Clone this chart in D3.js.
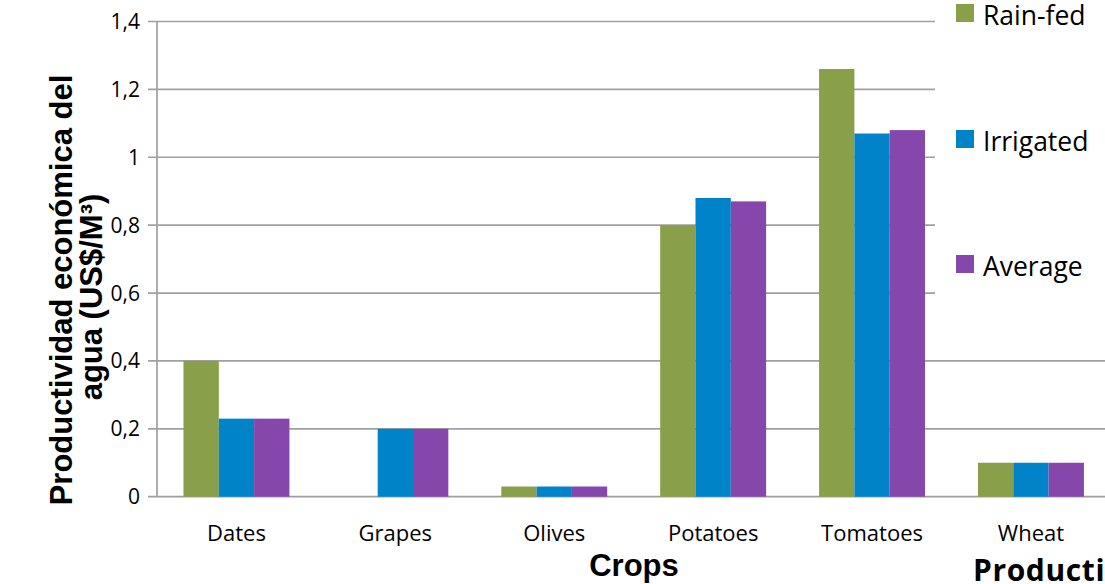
<!DOCTYPE html>
<html>
<head>
<meta charset="utf-8">
<script src="https://cdn.jsdelivr.net/npm/d3@7"></script>
<style>
  body { margin: 0; background: #fff; }
  svg { display: block; }
</style>
</head>
<body>
<script>
// data
var crops = ["Dates", "Grapes", "Olives", "Potatoes", "Tomatoes", "Wheat"];
var series = ["Rain-fed", "Irrigated", "Average"];
var rainfed = [0.40, 0, 0.03, 0.80, 1.26, 0.10];
var irrigated = [0.23, 0.20, 0.03, 0.88, 1.07, 0.10];
var average = [0.23, 0.20, 0.03, 0.87, 1.08, 0.10];
var yTicks = [0, 0.2, 0.4, 0.6, 0.8, 1, 1.2, 1.4];
var colors = ["#8a9f4a", "#0083c9", "#8647ad"];

var values = [rainfed, irrigated, average];

var width = 1105, height = 584;
var plotLeft = 157, plotTop = 21.5, plotBottom = 496.7, step = 158.9;

var svg = d3.select("body").append("svg")
    .attr("width", width)
    .attr("height", height);

var x0 = d3.scaleBand()
    .domain(crops)
    .range([plotLeft, plotLeft + step * crops.length]);

var x1 = d3.scaleBand()
    .domain(series)
    .range([0, x0.bandwidth()])
    .paddingOuter(0.75);

var y = d3.scaleLinear()
    .domain([0, 1.4])
    .range([plotBottom, plotTop]);

var fmt = function(d) { return String(d).replace(".", ","); };

// gridlines
svg.append("g")
    .attr("class", "grid")
    .selectAll("line")
    .data(yTicks)
    .enter().append("line")
      .attr("x1", plotLeft - 9)
      .attr("x2", width)
      .attr("y1", function(d) { return y(d); })
      .attr("y2", function(d) { return y(d); })
      .attr("stroke", "#a0a0a0")
      .attr("stroke-width", 1.7);

// y axis line
svg.append("line")
    .attr("x1", plotLeft).attr("x2", plotLeft)
    .attr("y1", plotTop).attr("y2", plotBottom)
    .attr("stroke", "#a0a0a0")
    .attr("stroke-width", 1.7);

// tick labels
svg.append("g")
    .selectAll("text")
    .data(yTicks)
    .enter().append("text")
      .attr("x", 140)
      .attr("y", function(d) { return y(d); })
      .attr("dy", "0.36em")
      .attr("text-anchor", "end")
      .style("font-family", "Open Sans")
      .style("font-size", "21px")
      .text(fmt);

// legend box hides the top right of the grid
svg.append("rect")
    .attr("x", 935).attr("y", 0)
    .attr("width", width - 935).attr("height", 300)
    .attr("fill", "#fff");

// bars
var groups = svg.selectAll(".crop")
    .data(crops)
    .enter().append("g")
      .attr("class", "crop")
      .attr("transform", function(d) { return "translate(" + x0(d) + ",0)"; });

groups.selectAll("rect")
    .data(function(d, i) {
      return series.map(function(s, j) { return {s: s, v: values[j][i], c: colors[j]}; });
    })
    .enter().append("rect")
      .attr("x", function(d) { return x1(d.s); })
      .attr("width", x1.bandwidth())
      .attr("y", function(d) { return y(d.v); })
      .attr("height", function(d) { return plotBottom - y(d.v); })
      .attr("fill", function(d) { return d.c; });

// category labels
svg.append("g")
    .selectAll("text")
    .data(crops)
    .enter().append("text")
      .attr("x", function(d) { return x0(d) + x0.bandwidth() / 2; })
      .attr("y", 541)
      .attr("text-anchor", "middle")
      .style("font-family", "Open Sans")
      .style("font-size", "22px")
      .text(function(d) { return d; });

// legend
var legendY = [13, 139, 264];
var legend = svg.selectAll(".legend")
    .data(series)
    .enter().append("g")
      .attr("class", "legend")
      .attr("transform", function(d, i) { return "translate(956," + legendY[i] + ")"; });

legend.append("rect")
    .attr("x", 0).attr("y", -9)
    .attr("width", 18).attr("height", 18)
    .attr("fill", function(d, i) { return colors[i]; });

legend.append("text")
    .attr("x", 27)
    .attr("y", 12)
    .style("font-family", "Open Sans")
    .style("font-size", "26.5px")
    .text(function(d) { return d; });

// axis titles
svg.append("text")
    .attr("transform", "translate(72,290) rotate(-90)")
    .attr("text-anchor", "middle")
    .style("font-family", "Liberation Sans")
    .style("font-weight", "bold")
    .style("font-size", "31px")
    .text("Productividad económica del");

svg.append("text")
    .attr("transform", "translate(102,297) rotate(-90)")
    .attr("text-anchor", "middle")
    .style("font-family", "Liberation Sans")
    .style("font-weight", "bold")
    .style("font-size", "31px")
    .text("agua (US$/M³)");

svg.append("text")
    .attr("x", 634)
    .attr("y", 576)
    .attr("text-anchor", "middle")
    .style("font-family", "Liberation Sans")
    .style("font-weight", "bold")
    .style("font-size", "31px")
    .text("Crops");

svg.append("text")
    .attr("x", 973)
    .attr("y", 581)
    .style("font-family", "Open Sans")
    .style("font-weight", "bold")
    .style("font-size", "30px")
    .style("letter-spacing", "0.6px")
    .text("Productividad");
</script>
</body>
</html>
